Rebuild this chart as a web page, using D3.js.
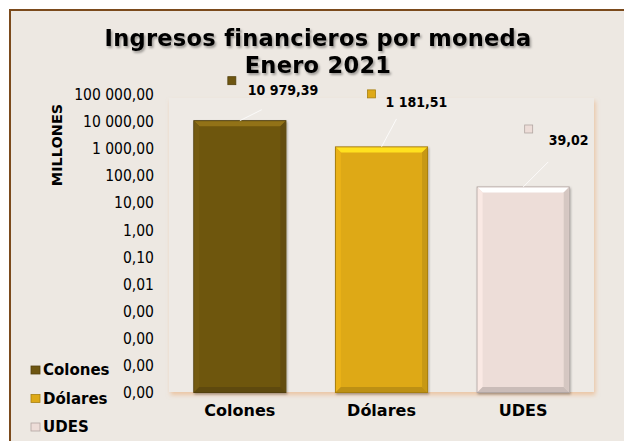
<!DOCTYPE html>
<html>
<head>
<meta charset="utf-8">
<script src="https://cdn.jsdelivr.net/npm/d3@7"></script>
<style>
  body { margin: 0; background: #ffffff; }
  svg text { font-family: "DejaVu Sans", Verdana, sans-serif; fill: #000; }
</style>
</head>
<body>
<div id="chart"></div>
<script>
// data
var categories = ["Colones", "Dólares", "UDES"];
var values = [10979.39, 1181.51, 39.02];
var colors = ["#6E5611", "#DEA917", "#EDDDD8"];
var tickValues = [1e5, 1e4, 1e3, 1e2, 1e1, 1, 1e-1, 1e-2, 1e-3, 1e-4, 1e-5, 1e-6];

// label placement (dx, dy from top centre of each bar)
var labelOffsets = [
  {kx: -12, ky: -44, tx: 8, ty: -31, lx: 22, ly: -11},
  {kx: -14, ky: -57, tx: 4, ty: -45, lx: 15, ly: -28},
  {kx: 1.5, ky: -62, tx: 25.5, ty: -47, lx: 25, ly: -25}
];

var W = 624, H = 441;
var plot = {left: 169, right: 594, top: 98, bottom: 392};

var svg = d3.select("#chart").append("svg")
    .attr("width", W)
    .attr("height", H);

var defs = svg.append("defs");
defs.append("filter").attr("id", "tshadow")
    .attr("x", "-10%").attr("y", "-30%").attr("width", "120%").attr("height", "160%")
  .append("feDropShadow")
    .attr("dx", 1.5).attr("dy", 2).attr("stdDeviation", 1.3)
    .attr("flood-color", "#000").attr("flood-opacity", 0.35);
defs.append("filter").attr("id", "pshadow")
    .attr("x", "-5%").attr("y", "-5%").attr("width", "110%").attr("height", "110%")
  .append("feDropShadow")
    .attr("dx", 1.5).attr("dy", 3).attr("stdDeviation", 2)
    .attr("flood-color", "#E9A870").attr("flood-opacity", 0.55);
defs.append("filter").attr("id", "bshadow")
    .attr("x", "-10%").attr("y", "-10%").attr("width", "120%").attr("height", "120%")
  .append("feDropShadow")
    .attr("dx", 1).attr("dy", 1.5).attr("stdDeviation", 1)
    .attr("flood-color", "#000").attr("flood-opacity", 0.3);

// chart area
svg.append("rect")
    .attr("x", 10).attr("y", 10)
    .attr("width", 660).attr("height", 460)
    .attr("fill", "#EDE8E2")
    .attr("stroke", "#7B4A1C")
    .attr("stroke-width", 2);

svg.append("rect")
    .attr("x", plot.left).attr("y", plot.top)
    .attr("width", plot.right - plot.left)
    .attr("height", plot.bottom - plot.top)
    .attr("fill", "#EEEAE5")
    .attr("filter", "url(#pshadow)");

// scales
var x = d3.scaleBand()
    .domain(categories)
    .range([plot.left, plot.right])
    .paddingInner(0.35)
    .paddingOuter(0.175);

var y = d3.scaleLog()
    .domain([1e-6, 1e5])
    .range([392.5, 94.7]);

var loc = d3.formatLocale({decimal: ",", thousands: " ", grouping: [3], currency: ["", ""]});
var fmt = loc.format(",.2f");

// y axis
var yAxis = svg.append("g")
    .attr("transform", "translate(" + plot.left + ",0)")
    .call(d3.axisLeft(y).tickValues(tickValues).tickFormat(fmt).tickSize(0).tickPadding(15));
yAxis.select(".domain").remove();
yAxis.selectAll("text")
    .style("font-family", "'DejaVu Sans Condensed', 'DejaVu Sans', sans-serif")
    .style("font-size", "15.5px")
    .attr("fill", "#111");

svg.append("text")
    .attr("transform", "translate(62,145) rotate(-90)")
    .attr("text-anchor", "middle")
    .style("font-size", "14.5px")
    .style("font-weight", "bold")
    .text("MILLONES");

// x axis
var xAxis = svg.append("g")
    .attr("transform", "translate(0," + plot.bottom + ")")
    .call(d3.axisBottom(x).tickSize(0).tickPadding(13));
xAxis.select(".domain").remove();
xAxis.selectAll("text")
    .style("font-size", "16px")
    .style("font-weight", "bold")
    .attr("fill", "#000");

// bars
var bev = 5;
var bars = svg.selectAll(".bar")
    .data(values)
    .enter().append("g")
    .attr("class", "bar");

bars.append("rect")
    .attr("x", function(d, i) { return x(categories[i]); })
    .attr("y", function(d) { return y(d); })
    .attr("width", x.bandwidth())
    .attr("height", function(d) { return y(1e-6) - y(d); })
    .attr("fill", function(d, i) { return colors[i]; })
    .attr("stroke", function(d, i) { return d3.color(colors[i]).darker(0.8); })
    .attr("stroke-width", 1)
    .attr("filter", "url(#bshadow)");

function bevel(side, k) {
  bars.append("path")
    .attr("d", function(d, i) {
      var x0 = x(categories[i]) + 0.5, x1 = x0 + x.bandwidth() - 1;
      var y0 = y(d) + 0.5, y1 = y(1e-6) - 0.5;
      if (side == "top") return "M" + x0 + "," + y0 + "L" + x1 + "," + y0 + "L" + (x1 - bev) + "," + (y0 + bev) + "L" + (x0 + bev) + "," + (y0 + bev) + "Z";
      if (side == "left") return "M" + x0 + "," + y0 + "L" + (x0 + bev) + "," + (y0 + bev) + "L" + (x0 + bev) + "," + (y1 - bev) + "L" + x0 + "," + y1 + "Z";
      if (side == "right") return "M" + x1 + "," + y0 + "L" + (x1 - bev) + "," + (y0 + bev) + "L" + (x1 - bev) + "," + (y1 - bev) + "L" + x1 + "," + y1 + "Z";
      return "M" + x0 + "," + y1 + "L" + (x0 + bev) + "," + (y1 - bev) + "L" + (x1 - bev) + "," + (y1 - bev) + "L" + x1 + "," + y1 + "Z";
    })
    .attr("fill", function(d, i) {
      return k > 0 ? d3.color(colors[i]).brighter(k) : d3.color(colors[i]).darker(-k);
    });
}
bevel("top", 0.8);
bevel("left", 0.15);
bevel("right", -0.3);
bevel("bottom", -0.45);

// leader lines
svg.selectAll(".leader")
    .data(values)
    .enter().append("line")
    .attr("x1", function(d, i) { return x(categories[i]) + x.bandwidth() / 2; })
    .attr("y1", function(d) { return y(d); })
    .attr("x2", function(d, i) { return x(categories[i]) + x.bandwidth() / 2 + labelOffsets[i].lx; })
    .attr("y2", function(d, i) { return y(d) + labelOffsets[i].ly; })
    .attr("stroke", "#ffffff")
    .attr("stroke-width", 1)
    .attr("opacity", 0.8);

// data label keys
svg.selectAll(".lkey")
    .data(values)
    .enter().append("rect")
    .attr("x", function(d, i) { return x(categories[i]) + x.bandwidth() / 2 + labelOffsets[i].kx; })
    .attr("y", function(d, i) { return y(d) + labelOffsets[i].ky; })
    .attr("width", 8).attr("height", 8)
    .attr("fill", function(d, i) { return colors[i]; })
    .attr("stroke", function(d, i) { return d3.color(colors[i]).darker(0.8); })
    .attr("stroke-width", 0.8);

svg.selectAll(".dlabel")
    .data(values)
    .enter().append("text")
    .attr("x", function(d, i) { return x(categories[i]) + x.bandwidth() / 2 + labelOffsets[i].tx; })
    .attr("y", function(d, i) { return y(d) + labelOffsets[i].ty; })
    .attr("dy", "0.36em")
    .style("font-family", "'DejaVu Sans Condensed', 'DejaVu Sans', sans-serif")
    .style("font-size", "14px")
    .style("font-weight", "bold")
    .text(function(d) { return fmt(d); });

// title
var title = svg.append("text")
    .attr("text-anchor", "middle")
    .attr("filter", "url(#tshadow)")
    .style("font-size", "22.5px")
    .style("letter-spacing", "0.3px")
    .style("font-weight", "bold");
title.append("tspan").attr("x", 318).attr("y", 46).text("Ingresos financieros por moneda");
title.append("tspan").attr("x", 318).attr("y", 73).text("Enero 2021");

// legend
var legend = svg.selectAll(".legend")
    .data(categories)
    .enter().append("g")
    .attr("class", "legend")
    .attr("transform", function(d, i) { return "translate(31," + (370 + i * 28.5) + ")"; });

legend.append("rect")
    .attr("x", 0).attr("y", -4)
    .attr("width", 9).attr("height", 8)
    .attr("fill", function(d, i) { return colors[i]; })
    .attr("stroke", function(d, i) { return d3.color(colors[i]).darker(0.8); })
    .attr("stroke-width", 0.8);

legend.append("text")
    .attr("x", 12)
    .attr("dy", "0.36em")
    .style("font-size", "15px")
    .style("font-weight", "bold")
    .text(function(d) { return d; });
</script>
</body>
</html>
